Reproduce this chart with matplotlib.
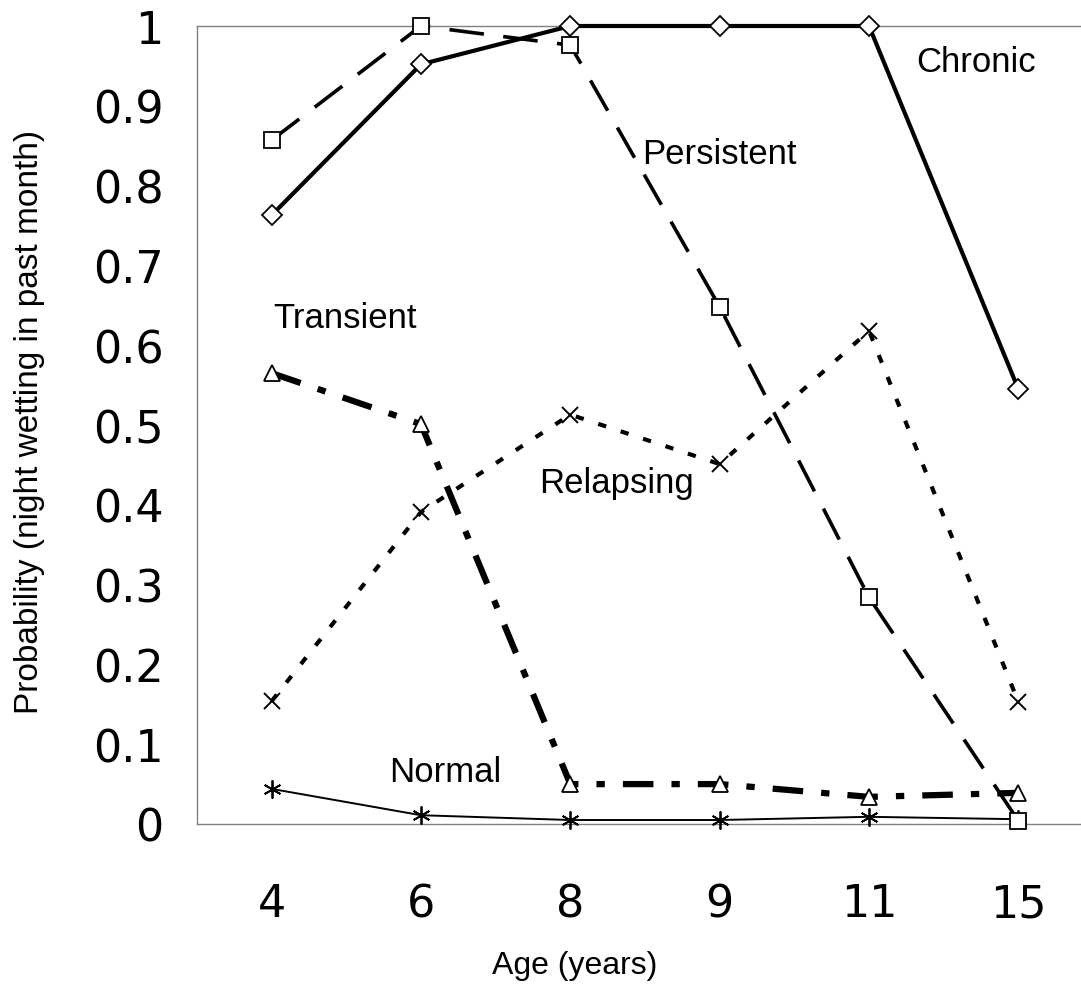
import numpy as np
import matplotlib
matplotlib.use("Agg")
import matplotlib.pyplot as plt

plt.rcParams['lines.scale_dashes'] = False

# data
ages = ['4', '6', '8', '9', '11', '15']
chronic = [0.763, 0.952, 1.0, 1.0, 1.0, 0.545]
persistent = [0.857, 1.0, 0.976, 0.648, 0.284, 0.004]
transient = [0.565, 0.501, 0.050, 0.050, 0.034, 0.039]
relapsing = [0.154, 0.391, 0.513, 0.451, 0.618, 0.153]
normal = [0.044, 0.011, 0.005, 0.005, 0.009, 0.006]
yticks = [0, 0.1, 0.2, 0.3, 0.4, 0.5, 0.6, 0.7, 0.8, 0.9, 1]
ytick_labels = ['0', '0.1', '0.2', '0.3', '0.4', '0.5', '0.6', '0.7', '0.8', '0.9', '1']

W, H = 1081, 987
fig = plt.figure(figsize=(W / 100, H / 100), dpi=100)
ax = fig.add_axes([197 / W, (H - 825) / H, (1093 - 197) / W, (825 - 27) / H])

x = np.arange(len(ages))
mk = dict(markerfacecolor='white', markeredgecolor='black', markeredgewidth=1.3, clip_on=False)

ax.plot(x, normal, color='black', lw=1.4, marker=(6, 2, 0), ms=13, zorder=3,
        markeredgecolor='black', markeredgewidth=1.3, clip_on=False)
ax.plot(x, relapsing, color='black', lw=3.0, dashes=(6, 11), marker='x', ms=11,
        markeredgecolor='black', markeredgewidth=1.4, zorder=3, clip_on=False)
ax.plot(x, transient, color='black', lw=4.5, dashes=(22, 13, 6, 13), marker='^', ms=12,
        zorder=4, **mk)
ax.plot(x, persistent, color='black', lw=2.6, dashes=(25, 14), marker='s', ms=12,
        zorder=5, **mk)
ax.plot(x, chronic, color='black', lw=3.0, marker='D', ms=10, zorder=6, **mk)

ax.set_xlim(-0.5, 5.5)
ax.set_ylim(0, 1)
ax.set_xticks(x)
ax.set_xticklabels(ages)
ax.set_yticks(yticks)
ax.set_yticklabels(ytick_labels)
ax.tick_params(length=0, labelsize=32)
ax.tick_params(axis='y', pad=24)
ax.tick_params(axis='x', pad=42)
for lab in ax.get_xticklabels() + ax.get_yticklabels():
    lab.set_fontfamily(['DejaVu Sans'])

for side in ['left', 'bottom', 'top']:
    ax.spines[side].set_color('#808080')
    ax.spines[side].set_linewidth(1.0)
ax.spines['right'].set_visible(False)

lbl = dict(fontsize=25, family=['Liberation Sans', 'DejaVu Sans'], ha='center', va='center')
ax.text(4.72, 0.955, 'Chronic', **lbl)
ax.text(3.0, 0.840, 'Persistent', **lbl)
ax.text(0.49, 0.635, 'Transient', **lbl)
ax.text(2.31, 0.428, 'Relapsing', **lbl)
ax.text(1.16, 0.066, 'Normal', **lbl)

fig.text(30 / W, 1 - 422 / H, 'Probability (night wetting in past month)', rotation=90,
         fontsize=24, family=['Liberation Sans', 'DejaVu Sans'], ha='center', va='center')
fig.text(575 / W, 1 - 966 / H, 'Age (years)', fontsize=23,
         family=['Liberation Sans', 'DejaVu Sans'], ha='center', va='center')

fig.savefig('out.png', dpi=100)
